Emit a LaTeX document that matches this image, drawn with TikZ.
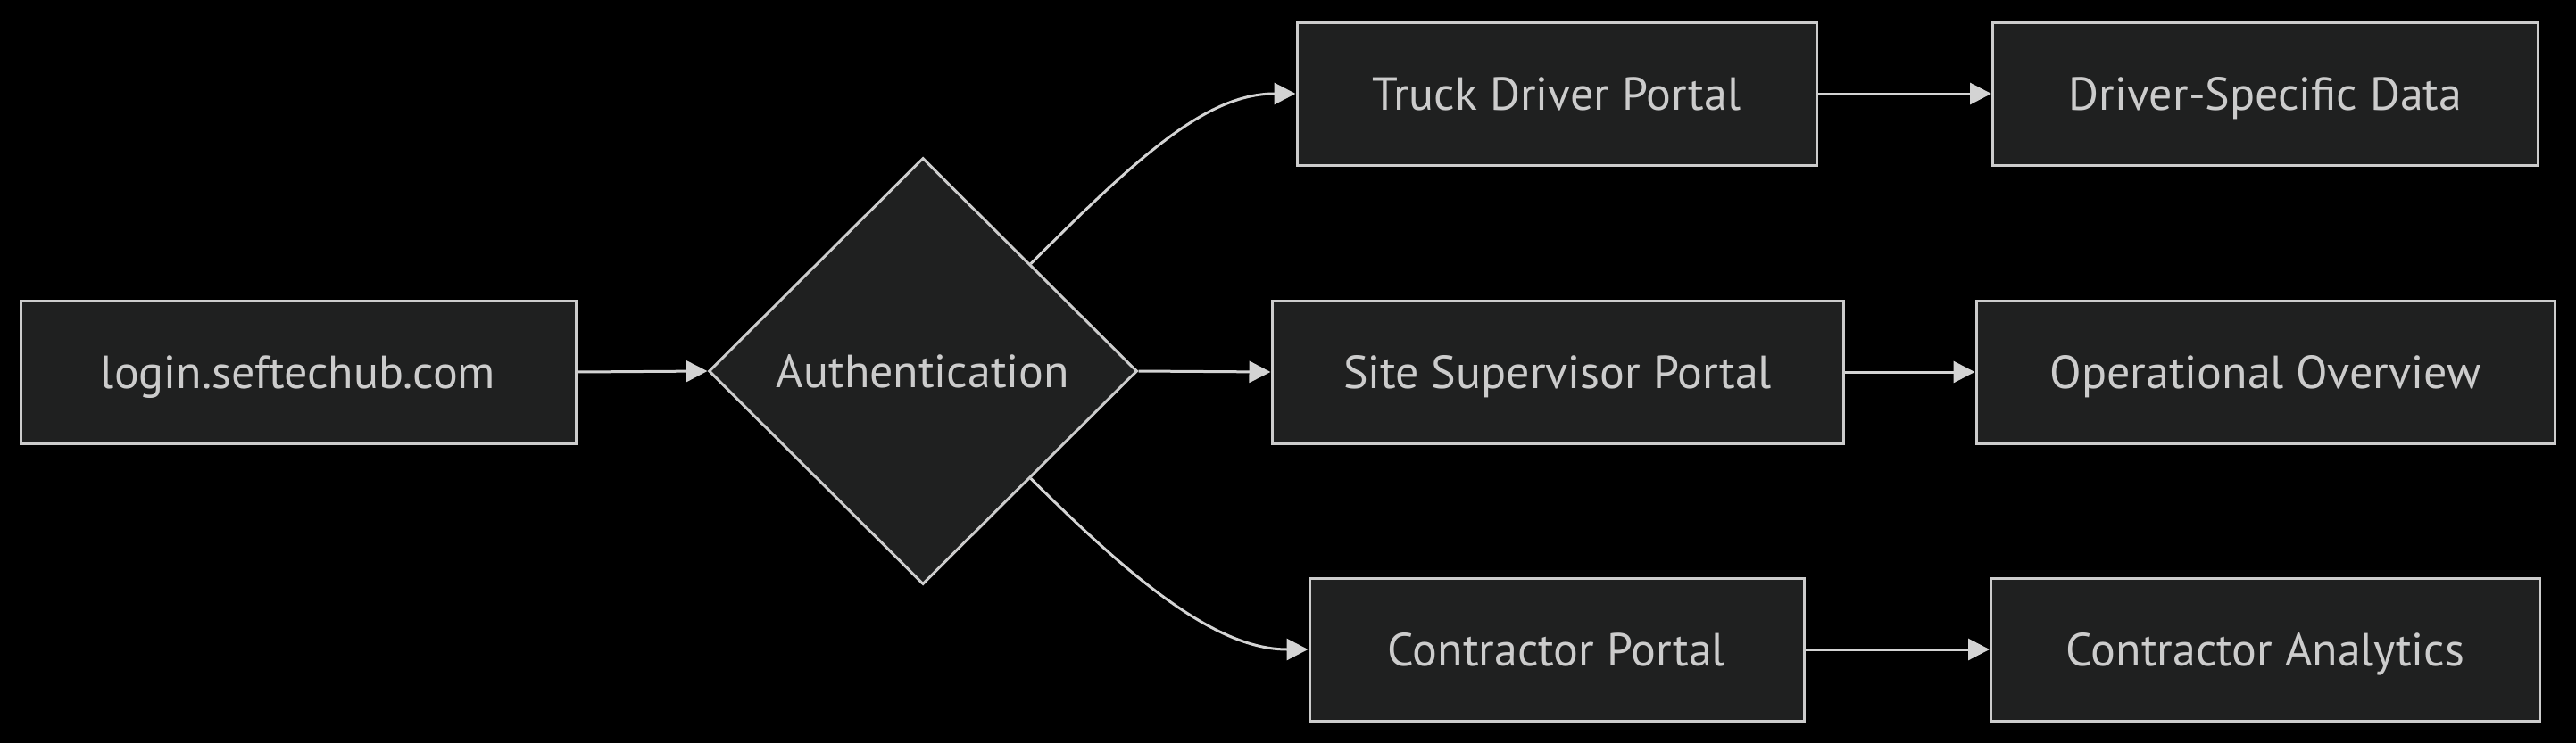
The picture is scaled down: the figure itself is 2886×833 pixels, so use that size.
\documentclass[tikz,border=0pt]{standalone}
\usepackage{fontspec}
\setmainfont{PT Sans}
\usetikzlibrary{shapes.geometric,arrows.meta}
\definecolor{bg}{HTML}{000000}
\definecolor{nodefill}{HTML}{1F2020}
\definecolor{nodeline}{HTML}{CCCCCC}
\definecolor{edgecol}{HTML}{D3D3D3}
\tikzset{
  nodetext/.style={text=nodeline, font=\fontsize{52}{60}\selectfont, text height=44pt, text depth=8pt},
  box/.style={draw=nodeline, fill=nodefill, line width=3pt, minimum height=160pt, inner sep=0pt, nodetext},
  decision/.style={diamond, draw=nodeline, fill=nodefill, line width=3pt, minimum width=480pt, minimum height=478pt, inner sep=0pt, nodetext},
  link/.style={draw=edgecol, line width=3pt, -{Triangle[length=24pt,width=24pt]}}
}
\begin{document}
\begin{tikzpicture}[x=1pt,y=-1pt]
\fill[bg] (0,0) rectangle (2886,833);
\useasboundingbox (0,0) rectangle (2886,833);
\node[box, minimum width=622pt] (login) at (334,417) {login.seftechub.com};
\node[decision] (auth) at (1034,416) {Authentication};
\node[box, minimum width=582pt] (truck) at (1744,105) {Truck Driver Portal};
\node[box, minimum width=640pt] (site) at (1745,417) {Site Supervisor Portal};
\node[box, minimum width=554pt] (contr) at (1744,728) {Contractor Portal};
\node[box, minimum width=611pt] (ddata) at (2538,105) {Driver-Specific Data};
\node[box, minimum width=648pt] (oover) at (2538,417) {Operational Overview};
\node[box, minimum width=615pt] (canal) at (2538,728) {Contractor Analytics};
\draw[link] (login.east) -- (auth.west);
\draw[link] (auth.east) -- (site.west);
\draw[link] (auth.north east) .. controls +(120,-120) and +(-100,0) .. (truck.west);
\draw[link] (auth.south east) .. controls +(120,120) and +(-100,0) .. (contr.west);
\draw[link] (truck.east) -- (ddata.west);
\draw[link] (site.east) -- (oover.west);
\draw[link] (contr.east) -- (canal.west);
\end{tikzpicture}
\end{document}
